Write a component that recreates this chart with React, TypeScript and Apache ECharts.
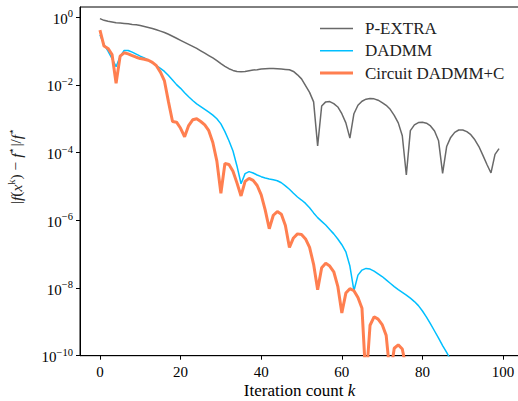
import React, { useEffect, useRef } from "react";
import * as echarts from "echarts";

// log10 of |f(x^k) - f*| / f*, iteration k = index
const pextraLog10 = [
  -0.04, -0.09, -0.12, -0.14, -0.16, -0.17, -0.18, -0.19, -0.21, -0.22,
  -0.24, -0.27, -0.3, -0.33, -0.37, -0.41, -0.45, -0.5, -0.56, -0.62,
  -0.68, -0.74, -0.8, -0.86, -0.92, -0.99, -1.06, -1.13, -1.2, -1.28,
  -1.37, -1.45, -1.52, -1.57, -1.6, -1.61, -1.6, -1.58, -1.56, -1.55,
  -1.53, -1.52, -1.51, -1.51, -1.52, -1.53, -1.54, -1.55, -1.6, -1.7,
  -1.82, -2.02, -2.22, -2.5, -3.8, -2.62, -2.5, -2.49, -2.55, -2.65,
  -2.85, -3.12, -3.57, -2.85, -2.6, -2.48, -2.42, -2.4, -2.41, -2.45,
  -2.52, -2.6, -2.72, -2.9, -3.12, -3.5, -4.66, -3.35, -3.18, -3.11,
  -3.1, -3.13, -3.21, -3.36, -3.65, -4.61, -3.82, -3.55, -3.4, -3.33,
  -3.33, -3.38, -3.47, -3.62, -3.82, -4.08, -4.35, -4.6, -4.05, -3.88,
];

const dadmmLog10 = [
  -0.52, -0.8, -1.0, -1.22, -1.46, -1.16, -0.98, -0.98, -1.03, -1.09,
  -1.15, -1.2, -1.27, -1.35, -1.43, -1.51, -1.6, -1.72, -1.85, -1.99,
  -2.1, -2.23, -2.35, -2.46, -2.56, -2.64, -2.72, -2.8, -2.89, -3.0,
  -3.15, -3.38, -3.65, -3.95, -4.4, -4.92, -4.62, -4.56, -4.6, -4.66,
  -4.71, -4.75, -4.78, -4.8, -4.83, -4.89, -4.98, -5.08, -5.2, -5.31,
  -5.4, -5.5, -5.63, -5.78, -5.92, -6.03, -6.14, -6.27, -6.4, -6.55,
  -6.72, -6.93, -7.35, -8.08, -7.62, -7.47, -7.42, -7.44, -7.5, -7.58,
  -7.66, -7.76, -7.86, -7.96, -8.05, -8.13, -8.21, -8.3, -8.4, -8.52,
  -8.68, -8.86, -9.06, -9.27, -9.48, -9.7, -9.9, -10.12,
];

const circuitLog10 = [
  -0.38, -0.85, -0.92, -1.1, -1.95, -1.15, -1.05, -1.08, -1.13, -1.18,
  -1.22, -1.24, -1.27, -1.33, -1.43, -1.62, -1.88, -2.5, -3.08, -3.1,
  -3.28, -3.53, -3.2, -3.03, -3.0, -3.08, -3.18, -3.35, -3.7, -4.25,
  -5.2, -4.32, -4.35, -4.55, -4.9, -5.28, -4.85, -4.76, -4.82, -4.97,
  -5.25, -5.7, -6.25, -5.85, -5.74, -5.82, -6.15, -6.8, -6.52, -6.4,
  -6.42, -6.55, -6.8, -7.3, -8.05, -7.4, -7.27, -7.35, -7.52, -7.95,
  -8.74, -8.15, -8.02, -8.08, -8.28, -8.6, -10.8, -9.1, -8.85, -8.92,
  -9.08, -9.4, -10.6, -9.78, -9.68, -9.8, -10.4,
];

const seriesNames = ["P-EXTRA", "DADMM", "Circuit DADMM+C"];
const seriesColors = ["#696969", "#00bfff", "#ff7f50"];
const seriesWidths = [1.5, 1.5, 3];
const legendIcons = ["path://M0 0H22V1H0Z", "path://M0 0H22V1H0Z", "path://M0 0H11V1H0Z"];
const xTicks = [0, 20, 40, 60, 80, 100];
const yTickExponents = [-10, -8, -6, -4, -2, 0];
const yAxisTitle = "|{i|f}({i|x}{s|k}) − {i|f}{s|⋆}|/{i|f}{s|⋆}";
const xAxisTitle = "Iteration count {i|k}";

const FONT = "Liberation Serif";

export default function App() {
  const ref = useRef<HTMLDivElement>(null);
  useEffect(() => {
    if (!ref.current) return;
    const chart = echarts.init(ref.current, null, { renderer: "svg" });
    const toPairs = (arr: number[]) => arr.map((v, k) => [k, v]);
    const supStyle = {
      fontSize: 10.5,
      fontFamily: FONT,
      color: "#000",
      verticalAlign: "top" as const,
      lineHeight: 10,
    };
    const datasets = [pextraLog10, dadmmLog10, circuitLog10];
    chart.setOption({
      animation: false,
      backgroundColor: "#fff",
      textStyle: { fontFamily: FONT },
      grid: {
        left: 80,
        right: -1,
        top: 7,
        bottom: 45.3,
        show: true,
        borderColor: "#000",
        borderWidth: 1,
        containLabel: false,
        outerBoundsMode: "none",
      },
      graphic: [
        {
          type: "text",
          x: 15,
          y: 166,
          rotation: Math.PI / 2,
          style: {
            text: yAxisTitle,
            fontFamily: FONT,
            fontSize: 15.5,
            fill: "#222",
            align: "center",
            verticalAlign: "middle",
            rich: {
              i: { fontFamily: FONT, fontSize: 15.5, fontStyle: "italic", fill: "#222", lineHeight: 18, verticalAlign: "bottom" },
              s: { fontFamily: FONT, fontSize: 10.5, fill: "#222", lineHeight: 10, verticalAlign: "top" },
            },
          },
        },
        {
          type: "text",
          x: 299.5,
          y: 390,
          style: {
            text: xAxisTitle,
            fontFamily: FONT,
            fontSize: 17,
            fill: "#000",
            align: "center",
            verticalAlign: "middle",
            rich: {
              i: { fontFamily: FONT, fontSize: 17, fontStyle: "italic", fill: "#000" },
            },
          },
        },
      ],
      legend: {
        orient: "vertical",
        left: 320,
        top: 20,
        padding: 0,
        itemWidth: 33,
        itemHeight: 14,
        itemGap: 5.3,
        symbolKeepAspect: true,
        data: seriesNames.map((n, i) => ({ name: n, icon: legendIcons[i] })),
        textStyle: {
          fontFamily: FONT,
          fontSize: 17,
          color: "#222",
          padding: [0, 0, 0, 7],
        },
      },
      xAxis: {
        type: "value",
        min: -4.95,
        max: 103.95,
        axisLine: { show: true, onZero: false, lineStyle: { color: "#000", width: 1 } },
        axisTick: { show: true, length: 4, lineStyle: { color: "#000" }, customValues: xTicks },
        axisLabel: {
          customValues: xTicks,
          margin: 9,
          fontFamily: FONT,
          fontSize: 15,
          color: "#000",
        },
        splitLine: { show: false },
      },
      yAxis: {
        type: "value",
        min: -10,
        max: 0.304,
        axisLine: { show: true, onZero: false, lineStyle: { color: "#000", width: 1 } },
        axisTick: { show: true, length: 4, lineStyle: { color: "#000" }, customValues: yTickExponents },
        axisLabel: {
          customValues: yTickExponents,
          margin: 7,
          fontFamily: FONT,
          formatter: (v: number) =>
            v === 0 ? "{b|10}{s|0}" : `{b|10}{s|−${Math.abs(v)}}`,
          rich: {
            b: { fontFamily: FONT, fontSize: 15, color: "#000", lineHeight: 18, verticalAlign: "bottom" },
            s: supStyle,
          },
        },
        splitLine: { show: false },
      },
      series: datasets.map((d, i) => ({
        name: seriesNames[i],
        type: "line",
        data: toPairs(d),
        symbol: "none",
        clip: true,
        lineStyle: { color: seriesColors[i], width: seriesWidths[i] },
        itemStyle: { color: seriesColors[i] },
        z: 2 + i,
      })),
    });
    return () => chart.dispose();
  }, []);
  return <div ref={ref} style={{ width: 518, height: 401, position: "absolute", left: 0, top: 0 }} />;
}
